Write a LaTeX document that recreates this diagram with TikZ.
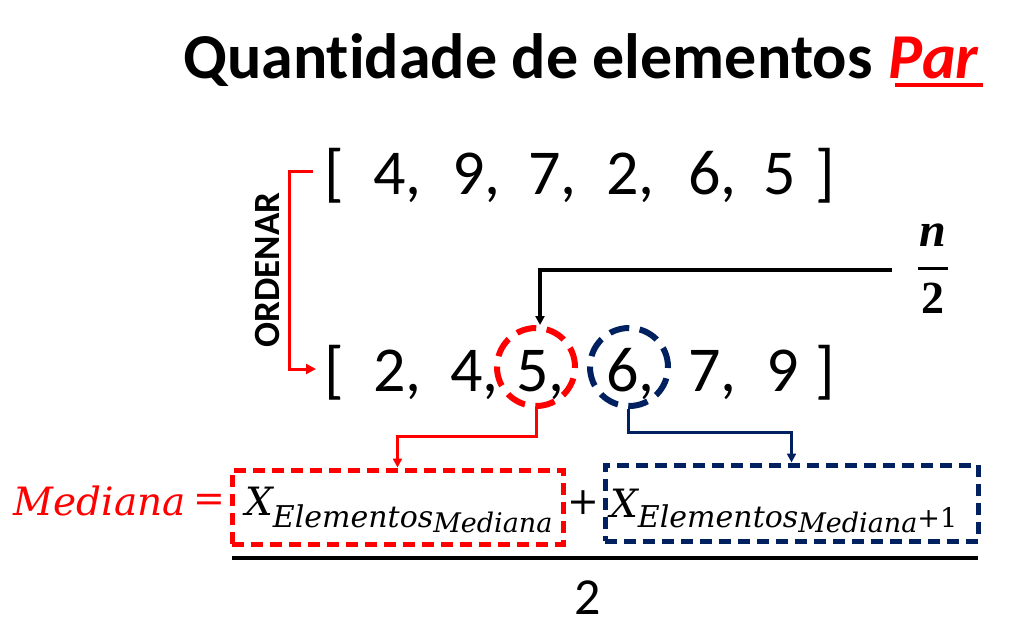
\documentclass[tikz,border=0pt]{standalone}
\usepackage{fontspec}
\setmainfont{Carlito}[Ligatures=NoCommon]
\newfontfamily\mfont{DejaVu Serif}
\newfontfamily\nfont{Liberation Serif}
\usetikzlibrary{arrows.meta}
\definecolor{navy}{HTML}{002060}
\definecolor{pured}{HTML}{FF0000}
\begin{document}
\begin{tikzpicture}[x=1pt,y=-1pt,
  num/.style={inner sep=0pt, outer sep=0pt, anchor=base west, font=\fontsize{64}{70}\selectfont},
  tip/.style={-{Triangle[length=9pt,width=9pt]}},
  dbox/.style={draw, line width=5pt, dash pattern=on 12pt off 7pt, inner sep=0pt},
  dcirc/.style={circle, draw, line width=6pt, dash pattern=on 20pt off 10.5pt, minimum size=78pt, inner sep=0pt},
  conn/.style={line width=3pt, tip},
  mtext/.style={inner sep=0pt, anchor=base west, font=\mfont\itshape}
]
\useasboundingbox (0,0) rectangle (1027,633);
% title
\node[inner sep=0pt, anchor=base west, font=\fontsize{64}{70}\selectfont\bfseries] (title) at (183,78) {Quantidade de elementos};
\node[inner sep=0pt, anchor=base west, text=pured, font=\fontsize{64}{70}\selectfont\bfseries\itshape] (par) at ([xshift=16pt]title.base east) {Par};
\draw[pured, line width=4pt] (895,85) -- (983,85);

% top list
\node[num] (lb1) at (324,194) {[};
\node[num] (t1) at (373,194) {4,};
\node[num] (t2) at (452,194) {9,};
\node[num] (t3) at (528,194) {7,};
\node[num] (t4) at (606,194) {2,};
\node[num] (t5) at (688,194) {6,};
\node[num] (t6) at (763,194) {5};
\node[num, anchor=base east] (rb1) at (835,194) {]};

% bottom list
\node[num] (lb2) at (324,391) {[};
\node[num] (b1) at (373,391) {2,};
\node[num] (b2) at (450,391) {4,};
\node[num] (b3) at (516,391) {5,};
\node[num] (b4) at (606,391) {6,};
\node[num] (b5) at (688,391) {7,};
\node[num] (b6) at (766,391) {9};
\node[num, anchor=base east] (rb2) at (835,391) {]};

% circles
\node[dcirc, draw=pured] (c5) at (536,367) {};
\node[dcirc, draw=navy] (c6) at (629,367) {};

% ORDENAR
\node[inner sep=0pt, rotate=90, font=\fontsize{37}{40}\selectfont\bfseries] (ord) at (267,270) {ORDENAR};
\coordinate (o1) at (313,171);
\coordinate (o2) at (316,369);
\draw[pured, line width=3pt, -{Triangle[length=10pt,width=10pt]}] (o1) -- (289,171) |- (o2);

% n/2
\node[inner sep=0pt, anchor=base, font=\nfont\fontsize{48}{50}\selectfont\bfseries\itshape] (nn) at (933,246) {n};
\draw[line width=3pt] (918,268) -- (948,268);
\node[inner sep=0pt, anchor=base, font=\nfont\fontsize{46}{50}\selectfont\bfseries] (n2) at (933,313) {2};
\coordinate (nb) at (892,270);
\draw[line width=3.5pt, tip] (nb) -| ([xshift=4pt]c5.north) ;

% boxes
\node[dbox, draw=pured, minimum width=331pt, minimum height=74pt] (bx1) at (397.5,507) {};
\node[dbox, draw=navy, minimum width=373pt, minimum height=76pt] (bx2) at (791.5,503) {};

\draw[pured, conn] (c5.south) -- ++(0,27) -| (bx1.north);
\draw[navy, conn] ([xshift=-1pt]c6.south) -- ++(0,23) -| (bx2.north);

% formula
\node[inner sep=0pt, anchor=base east, text=pured, font=\mfont\itshape\fontsize{39}{40}\selectfont] (med) at (186,515) {Mediana};
\node[inner sep=0pt, text=pured, font=\mfont\fontsize{38}{40}\selectfont] (eq) at (209,503) {=};
\node[mtext] (f1) at (245,515) {\fontsize{39}{40}\selectfont X\raisebox{-12pt}{\fontsize{30}{32}\selectfont Elementos\raisebox{-5pt}{\fontsize{27}{30}\selectfont Mediana}}};
\node[inner sep=0pt, font=\mfont\fontsize{38}{40}\selectfont] (plus) at (583,503) {+};
\node[mtext] (f2) at (610,517) {\fontsize{39}{40}\selectfont X\raisebox{-10pt}{\fontsize{30}{32}\selectfont Elementos\raisebox{-5pt}{\fontsize{27}{30}\selectfont Mediana\upshape\raisebox{5pt}{+1}}}};
\coordinate (fl) at (232,558);
\coordinate (fr) at (978,558);
\draw[line width=4pt] (fl) -- (fr);
\node[inner sep=0pt, anchor=base, font=\fontsize{52}{56}\selectfont] (den) at (588,614) {2};
\end{tikzpicture}
\end{document}
